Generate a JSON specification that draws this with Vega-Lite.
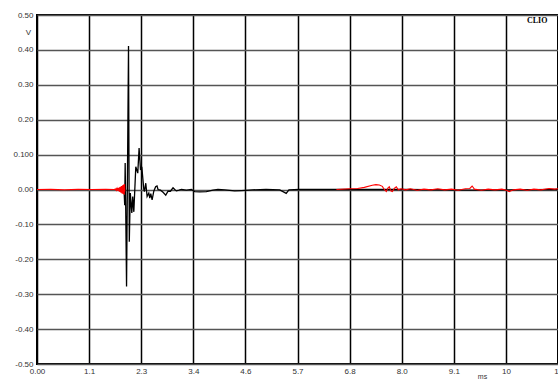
{
  "$schema": "https://vega.github.io/schema/vega-lite/v6.json",
  "width": 521,
  "height": 349,
  "autosize": "none",
  "padding": {"left": 37, "top": 15, "right": 0, "bottom": 15},
  "background": "white",
  "config": {
    "view": {"stroke": "black", "strokeWidth": 2},
    "font": "Liberation Sans"
  },
  "datasets": {
    "black": [
      {"t": 1.900, "v": 0.0}, {"t": 1.915, "v": -0.045}, {"t": 1.925, "v": 0.076}, {"t": 1.935, "v": -0.03},
      {"t": 1.955, "v": -0.278}, {"t": 1.998, "v": 0.411}, {"t": 2.015, "v": -0.15}, {"t": 2.037, "v": -0.01},
      {"t": 2.070, "v": -0.067}, {"t": 2.090, "v": -0.02}, {"t": 2.114, "v": -0.064}, {"t": 2.157, "v": 0.065},
      {"t": 2.200, "v": 0.047}, {"t": 2.229, "v": 0.119}, {"t": 2.260, "v": 0.056}, {"t": 2.288, "v": 0.065},
      {"t": 2.332, "v": 0.0}, {"t": 2.345, "v": -0.006}, {"t": 2.375, "v": 0.018}, {"t": 2.404, "v": -0.02},
      {"t": 2.441, "v": -0.01}, {"t": 2.462, "v": -0.025}, {"t": 2.484, "v": -0.012}, {"t": 2.513, "v": -0.03},
      {"t": 2.550, "v": -0.005}, {"t": 2.590, "v": 0.008}, {"t": 2.620, "v": 0.01}, {"t": 2.643, "v": 0.0},
      {"t": 2.696, "v": -0.002}, {"t": 2.752, "v": -0.008}, {"t": 2.811, "v": -0.016}, {"t": 2.861, "v": -0.005},
      {"t": 2.913, "v": -0.005}, {"t": 2.970, "v": 0.005}, {"t": 3.007, "v": 0.0}, {"t": 3.044, "v": -0.004},
      {"t": 3.101, "v": -0.002}, {"t": 3.153, "v": 0.0}, {"t": 3.262, "v": -0.002}, {"t": 3.371, "v": 0.0},
      {"t": 3.443, "v": -0.006}, {"t": 3.552, "v": -0.007}, {"t": 3.698, "v": -0.006}, {"t": 3.842, "v": -0.002},
      {"t": 3.951, "v": 0.0}, {"t": 4.100, "v": -0.001}, {"t": 4.315, "v": -0.004}, {"t": 4.467, "v": -0.003},
      {"t": 4.700, "v": -0.001}, {"t": 5.000, "v": 0.0}, {"t": 5.300, "v": -0.001}, {"t": 5.441, "v": -0.011},
      {"t": 5.500, "v": -0.001}, {"t": 5.731, "v": 0.0}, {"t": 6.000, "v": 0.0}, {"t": 6.300, "v": 0.0},
      {"t": 6.540, "v": 0.0}, {"t": 8.000, "v": 0.0}, {"t": 9.500, "v": -0.002}, {"t": 11.375, "v": 0.0}
    ],
    "red1": [
      {"t": 0.0, "v": 0.0}, {"t": 0.3, "v": 0.0005}, {"t": 0.6, "v": -0.0005}, {"t": 0.9, "v": 0.0005},
      {"t": 1.2, "v": 0.0}, {"t": 1.5, "v": 0.0005}, {"t": 1.688, "v": 0.0},
      {"t": 1.700, "v": 0.001}, {"t": 1.712, "v": -0.001}, {"t": 1.724, "v": 0.002}, {"t": 1.736, "v": -0.002},
      {"t": 1.748, "v": 0.003}, {"t": 1.760, "v": -0.003}, {"t": 1.772, "v": 0.004}, {"t": 1.784, "v": -0.005},
      {"t": 1.796, "v": 0.006}, {"t": 1.808, "v": -0.007}, {"t": 1.820, "v": 0.008}, {"t": 1.832, "v": -0.009},
      {"t": 1.844, "v": 0.010}, {"t": 1.856, "v": -0.011}, {"t": 1.868, "v": 0.012}, {"t": 1.880, "v": -0.013},
      {"t": 1.892, "v": 0.014}, {"t": 1.904, "v": -0.015}, {"t": 1.912, "v": 0.016}, {"t": 1.918, "v": -0.006}
    ],
    "red2": [
      {"t": 6.537, "v": 0.0}, {"t": 6.82, "v": 0.002}, {"t": 7.0, "v": 0.003}, {"t": 7.147, "v": 0.006},
      {"t": 7.32, "v": 0.012}, {"t": 7.40, "v": 0.014}, {"t": 7.474, "v": 0.013}, {"t": 7.54, "v": 0.009},
      {"t": 7.583, "v": 0.0}, {"t": 7.627, "v": -0.006}, {"t": 7.66, "v": 0.004}, {"t": 7.692, "v": 0.008},
      {"t": 7.725, "v": -0.004}, {"t": 7.758, "v": -0.006}, {"t": 7.80, "v": 0.003}, {"t": 7.845, "v": 0.008},
      {"t": 7.888, "v": -0.001}, {"t": 7.954, "v": 0.002}, {"t": 8.05, "v": -0.001}, {"t": 8.15, "v": 0.002},
      {"t": 8.30, "v": -0.002}, {"t": 8.45, "v": 0.001}, {"t": 8.60, "v": -0.001}, {"t": 8.75, "v": 0.002},
      {"t": 8.90, "v": -0.001}, {"t": 9.05, "v": 0.001}, {"t": 9.20, "v": -0.002}, {"t": 9.35, "v": 0.002},
      {"t": 9.45, "v": 0.003}, {"t": 9.50, "v": 0.010}, {"t": 9.55, "v": 0.001}, {"t": 9.70, "v": -0.002},
      {"t": 9.85, "v": 0.001}, {"t": 10.00, "v": -0.001}, {"t": 10.15, "v": 0.001}, {"t": 10.25, "v": -0.002},
      {"t": 10.31, "v": -0.006}, {"t": 10.40, "v": -0.001}, {"t": 10.55, "v": 0.001}, {"t": 10.70, "v": -0.002},
      {"t": 10.85, "v": 0.001}, {"t": 11.00, "v": -0.001}, {"t": 11.18, "v": 0.003}, {"t": 11.30, "v": 0.001},
      {"t": 11.375, "v": 0.002}
    ],
    "label": [{"t": 10.92, "v": 0.483, "txt": "CLIO"}]
  },
  "encoding": {
    "x": {
      "field": "t", "type": "quantitative",
      "scale": {"domain": [0, 11.375], "nice": false, "zero": false},
      "axis": {
        "values": [0, 1.1375, 2.275, 3.4125, 4.55, 5.6875, 6.825, 7.9625, 9.1, 10.2375, 11.375],
        "labelExpr": "['0.00','1.1','2.3','3.4','4.6','5.7','6.8','8.0','9.1','10','11'][round(datum.value/1.1375)]",
        "ticks": false, "domain": false,
        "grid": true, "gridColor": "black", "gridWidth": 1.5, "gridOpacity": 1,
        "labelFont": "Liberation Sans", "labelFontSize": 8, "labelColor": "#333333",
        "labelPadding": 3, "labelFlush": false, "labelOverlap": false,
        "title": "ms", "titleFont": "Liberation Sans", "titleFontSize": 7, "titleFontWeight": "normal",
        "titleColor": "#333333", "titleX": 445, "titleY": 15, "titleAlign": "center", "titleBaseline": "bottom"
      }
    },
    "y": {
      "field": "v", "type": "quantitative",
      "scale": {"domain": [-0.5, 0.5], "nice": false, "zero": false},
      "axis": {
        "values": [-0.5, -0.4, -0.3, -0.2, -0.1, 0, 0.1, 0.2, 0.3, 0.4, 0.5],
        "labelExpr": "['-0.50','-0.40','-0.30','-0.20','-0.10','0.00','0.100','0.20','0.30','0.40','0.50'][round((datum.value+0.5)*10)]",
        "ticks": false, "domain": false,
        "grid": true, "gridColor": "#555555", "gridWidth": 1.5, "gridOpacity": 1,
        "labelFont": "Liberation Sans", "labelFontSize": 8, "labelColor": "#333333",
        "labelPadding": 4, "labelFlush": false, "labelOverlap": false,
        "title": "V", "titleAngle": 0, "titleFont": "Liberation Sans", "titleFontSize": 8, "titleFontWeight": "normal",
        "titleColor": "#333333", "titleX": -9, "titleY": 17, "titleAlign": "center", "titleBaseline": "middle"
      }
    }
  },
  "layer": [
    {"data": {"name": "black"}, "mark": {"type": "line", "color": "black", "strokeWidth": 1.3, "interpolate": "linear"}},
    {"data": {"name": "red1"}, "mark": {"type": "line", "color": "#ff0000", "strokeWidth": 1.1}},
    {"data": {"name": "red2"}, "mark": {"type": "line", "color": "#ff0000", "strokeWidth": 1.1}},
    {"data": {"name": "label"}, "mark": {"type": "text", "font": "Liberation Serif", "fontWeight": "bold", "fontSize": 8, "color": "black", "align": "center", "baseline": "middle"}, "encoding": {"text": {"field": "txt"}}}
  ]
}
